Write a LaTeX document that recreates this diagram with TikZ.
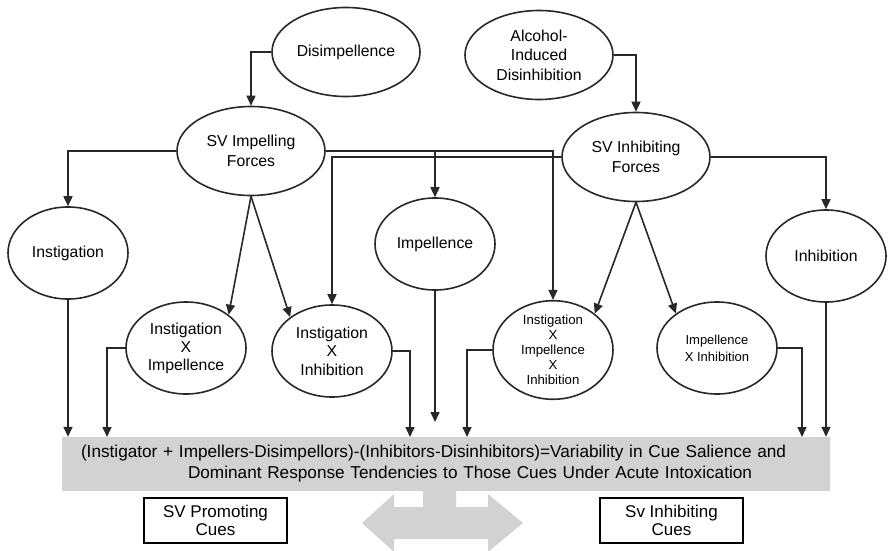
\documentclass[tikz,border=0pt]{standalone}
\usepackage{fontspec}
\setmainfont{Liberation Sans}
\usetikzlibrary{shapes.geometric,arrows.meta}
\definecolor{linegray}{RGB}{40,40,40}
\definecolor{boxgray}{RGB}{210,210,210}
\begin{document}
\begin{tikzpicture}[x=1pt,y=-1pt,
    every node/.style={font=\fontsize{15.8}{19.5}\selectfont,align=center},
    force/.style={shape=ellipse,draw=linegray,line width=1.6pt,inner sep=0pt,minimum width=148pt,minimum height=89pt},
    factor/.style={shape=ellipse,draw=linegray,line width=1.6pt,inner sep=0pt,minimum width=120pt,minimum height=92pt},
    cue/.style={draw=black,line width=1.6pt,inner sep=0pt,minimum width=143pt,minimum height=45pt,font=\fontsize{17}{18.5}\selectfont},
    arr/.style={draw=linegray,line width=1.6pt,-{Triangle[length=10pt,width=9pt]}}]
            \useasboundingbox (0,0) rectangle (889,551);
            \clip (0,0) rectangle (889,551);

            \node[force] (D) at (346,52) {Disimpellence};
            \node[force] (A) at (539,55) {Alcohol-\\Induced\\Disinhibition};
            \node[force] (P) at (251,151) {SV Impelling\\Forces};
            \node[force] (Q) at (636,157) {SV Inhibiting\\Forces};
            \node[factor] (I1) at (68,253) {Instigation};
            \node[factor] (I2) at (435,244) {Impellence};
            \node[factor] (I3) at (826,256) {Inhibition};
            \node[factor,font=\fontsize{15.8}{18}\selectfont] (X1) at (186,348) {Instigation\\X\\Impellence};
            \node[factor,font=\fontsize{15.8}{18.5}\selectfont] (X2) at (332,351) {Instigation\\X\\Inhibition};
            \node[factor,font=\fontsize{13.2}{15}\selectfont] (X3) at (553,350) {Instigation\\X\\Impellence\\X\\Inhibition};
            \node[factor,font=\fontsize{13}{17}\selectfont] (X4) at (717,348) {Impellence\\X Inhibition};

            \node[fill=boxgray,inner ysep=0pt,inner xsep=19pt,minimum height=54pt,text width=730pt,align=left,font=\fontsize{17.2}{21}\selectfont] (S) at (446,464)
                {(Instigator + Impellers-Disimpellors)-(Inhibitors-Disinhibitors)=Variability in Cue Salience and\\\hspace*{107pt}Dominant Response Tendencies to Those Cues Under Acute Intoxication};
            \node[cue] (C1) at (215.5,520.5) {SV Promoting\\Cues};
            \node[cue] (C2) at (671.5,520.5) {Sv Inhibiting\\Cues};

            \fill[boxgray] (423,491) -- (423,507) -- (394,507) -- (394,494) -- (362,523) -- (394,552)
                -- (394,539) -- (488,539) -- (488,552) -- (523,523) -- (488,494) -- (488,507)
                -- (456,507) -- (456,491) -- cycle;

            \coordinate (s2) at (107,437);
            \coordinate (s3) at (410,437);
            \coordinate (s4) at (435,422);
            \coordinate (s5) at (467,437);
            \coordinate (s6) at (802,437);

            \draw[arr] (D.west) -| (P.north);
            \draw[arr] (A.east) -| (Q.north);
            \draw[arr] (P.west) -| (I1.north);
            \draw[arr] (P.east) -| (X3.north);
            \draw[arr] (I2.north |- P.east) -- (I2.north);
            \draw[arr] (Q.west) -| (X2.north);
            \draw[arr] (Q.east) -| (I3.north);
            \draw[arr] (P.south) -- (X1.38);
            \draw[arr] (P.south) -- (X2.141);
            \draw[arr] (Q.south) -- (X3.41);
            \draw[arr] (Q.south) -- (X4.140);

            \draw[arr] (I1.south) -- (I1.south |- S.north);
            \draw[arr] (X1.west) -| (s2);
            \draw[arr] (X2.east) -| (s3);
            \draw[arr] (I2.south) -- (s4);
            \draw[arr] (X3.west) -| (s5);
            \draw[arr] (X4.east) -| (s6);
            \draw[arr] (I3.south) -- (I3.south |- S.north);
        \end{tikzpicture}
\end{document}
